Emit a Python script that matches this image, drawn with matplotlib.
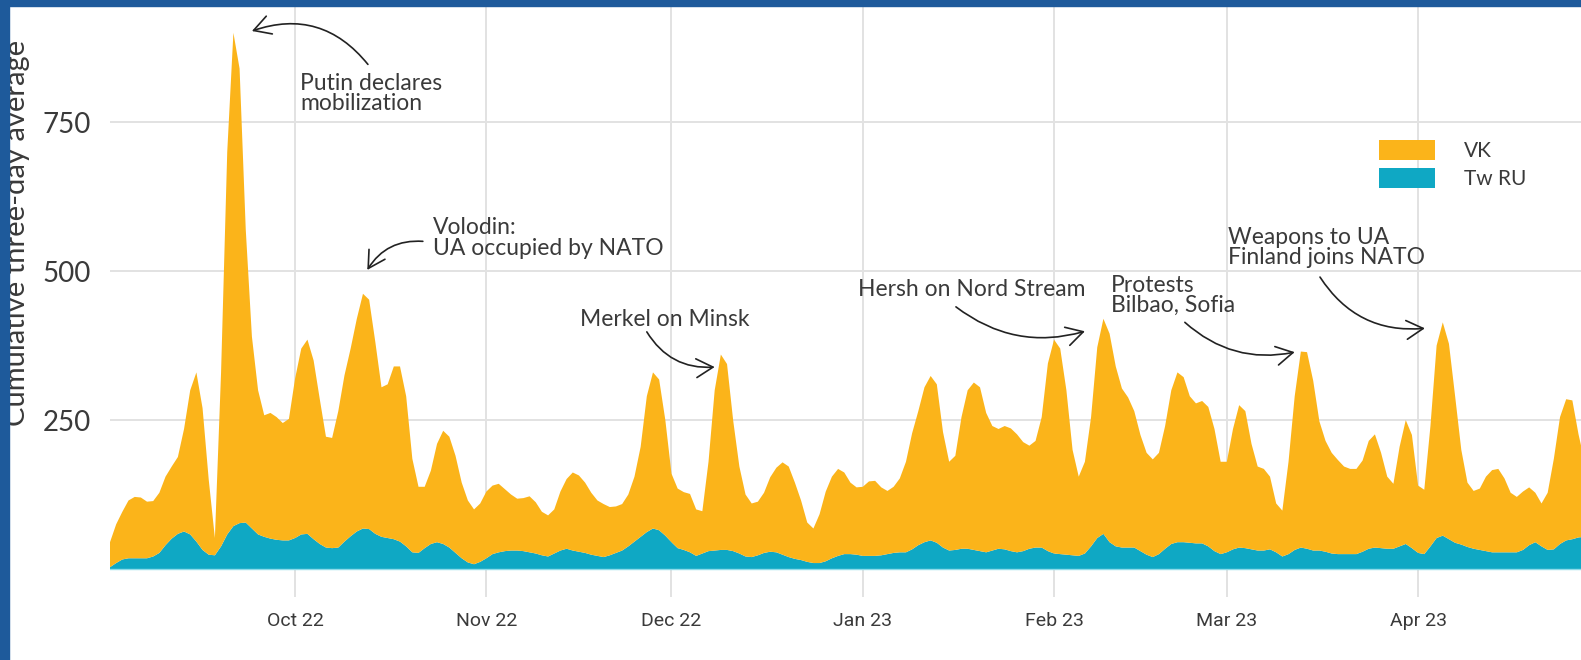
import matplotlib
matplotlib.use("Agg")
import matplotlib.pyplot as plt
import matplotlib.dates as mdates
from matplotlib.patches import Rectangle
import pandas as pd
import numpy as np

W, H = 1581, 660

# cumulative three-day average (top edge of the stack), daily from 1 Sep 2022
total = [
    45, 75, 96, 115, 121, 120, 113, 114, 128, 155,
    172, 188, 235, 300, 330, 270, 150, 52, 330, 700,
    900, 840, 570, 390, 300, 258, 262, 255, 245, 252,
    320, 370, 385, 350, 285, 222, 220, 265, 325, 370,
    420, 462, 452, 381, 305, 310, 340, 340, 290, 185,
    138, 138, 165, 210, 232, 222, 190, 145, 115, 100,
    110, 130, 140, 143, 134, 125, 118, 119, 122, 112,
    96, 90, 100, 130, 151, 162, 157, 145, 128, 115,
    109, 104, 105, 109, 125, 155, 205, 290, 330, 318,
    250, 160, 135, 129, 126, 100, 97, 180, 300, 360,
    344, 249, 172, 125, 110, 113, 128, 154, 170, 179,
    172, 145, 115, 78, 68, 92, 130, 155, 168, 162,
    145, 137, 138, 147, 148, 137, 131, 138, 152, 180,
    228, 265, 305, 324, 310, 230, 180, 190, 255, 300,
    313, 305, 262, 240, 235, 240, 236, 226, 213, 207,
    215, 255, 345, 385, 370, 300, 200, 155, 180, 255,
    372, 420, 395, 340, 303, 288, 265, 225, 195, 184,
    195, 240, 300, 330, 322, 290, 278, 282, 272, 235,
    180, 180, 235, 275, 265, 210, 172, 168, 155, 110,
    98, 180, 290, 365, 364, 316, 248, 215, 195, 183,
    172, 168, 168, 182, 215, 226, 195, 155, 143, 205,
    250, 225, 140, 133, 240, 375, 414, 378, 290, 200,
    145, 131, 135, 155, 166, 168, 152, 128, 121, 130,
    137, 128, 110, 128, 185, 255, 285, 283, 226, 180,
]

# Twitter (RU) three-day average
tw_ru = [
    3, 10, 16, 18, 18, 18, 18, 21, 27, 40,
    51, 59, 63, 58, 46, 32, 24, 23, 38, 58,
    72, 77, 78, 68, 58, 54, 51, 49, 48, 48,
    52, 58, 59, 50, 42, 36, 35, 36, 46, 55,
    63, 68, 67, 59, 54, 52, 50, 46, 38, 28,
    27, 35, 42, 45, 42, 36, 27, 18, 11, 8,
    12, 18, 25, 28, 30, 31, 31, 30, 28, 26,
    23, 21, 26, 31, 34, 31, 29, 27, 24, 22,
    20, 23, 27, 31, 38, 46, 54, 62, 68, 65,
    56, 45, 35, 32, 28, 22, 26, 30, 31, 32,
    32, 30, 26, 21, 20, 23, 27, 29, 28, 24,
    20, 17, 15, 12, 10, 10, 13, 18, 22, 25,
    25, 24, 22, 22, 22, 23, 25, 27, 28, 28,
    33, 40, 45, 48, 44, 36, 31, 32, 34, 34,
    32, 30, 28, 31, 34, 33, 30, 28, 30, 34,
    36, 36, 30, 26, 25, 24, 23, 22, 26, 38,
    52, 59, 45, 38, 36, 36, 36, 30, 24, 20,
    25, 34, 42, 45, 45, 44, 43, 43, 38, 30,
    25, 28, 33, 36, 35, 33, 31, 31, 33, 28,
    21, 25, 32, 36, 34, 31, 31, 29, 26, 25,
    25, 25, 25, 29, 34, 36, 35, 34, 34, 38,
    42, 35, 27, 25, 38, 52, 56, 50, 44, 41,
    37, 34, 32, 30, 28, 28, 28, 28, 28, 32,
    40, 45, 38, 32, 33, 42, 48, 50, 53, 54,
]

start = "2022-09-01"
month_ticks = ["2022-10-01", "2022-11-01", "2022-12-01", "2023-01-01",
               "2023-02-01", "2023-03-01", "2023-04-01"]
y_ticks = [250, 500, 750]

# (text, text pos (day offset, value), arrow start, arrow end, rad)
events = [
    ("Putin declares\nmobilization", (30.8, 832), (41.8, 847), (23.0, 903), 0.35),
    ("Volodin:\nUA occupied by NATO", (52.3, 590), (50.7, 550), (41.7, 502), 0.3),
    ("Merkel on Minsk", (76.2, 437), (87.0, 398), (98.0, 339), 0.3),
    ("Hersh on Nord Stream", (121.2, 487), (137.1, 440), (158.0, 399), 0.25),
    ("Protests\nBilbao, Sofia", (162.2, 494), (174.2, 414), (192.0, 364), 0.25),
    ("Weapons to UA\nFinland joins NATO", (181.2, 574), (196.1, 490), (213.1, 404), 0.3),
]

orange = "#fbb41a"
teal = "#0fa8c4"
border = "#1e5a9b"
grid_c = "#e2e2e2"
text_c = "#3a3a3a"
font = "Lato"

dates = pd.date_range(start, periods=len(total), freq="D")
tw = np.array(tw_ru)
vk = np.array(total) - tw
t0 = pd.Timestamp(start)

fig = plt.figure(figsize=(W / 100, H / 100), dpi=100)
fig.patch.set_facecolor("white")
ax = fig.add_axes([110 / W, 1 - 597 / H, 1 - 110 / W, (597 - 6) / H])

ax.stackplot(dates, tw, vk, colors=[teal, orange],
             labels=["Tw RU", "VK"], linewidth=0)
ax.axhline(0, color="#8fdcea", lw=1.0, zorder=3)

ax.set_xlim(t0, t0 + pd.Timedelta(days=238.4))
ax.set_ylim(-47, 945)
ax.set_xticks(pd.to_datetime(month_ticks))
ax.xaxis.set_major_formatter(mdates.DateFormatter("%b %y"))
ax.set_yticks(y_ticks)
ax.set_axisbelow(True)
ax.grid(True, color=grid_c, lw=1.4)
for s in ax.spines.values():
    s.set_visible(False)
ax.tick_params(axis="both", length=0)
ax.tick_params(axis="y", pad=14, labelsize=20, labelcolor=text_c)
ax.tick_params(axis="x", pad=11, labelsize=14, labelcolor=text_c)
for lab in ax.get_yticklabels():
    lab.set_family(font)
for lab in ax.get_xticklabels():
    lab.set_family("Roboto")

fig.text(17 / W, 1 - 233 / H, "Cumulative three-day average", rotation=90,
         ha="center", va="center", fontsize=21, color=text_c, family=font)

for label, tpos, a0, a1, rad in events:
    ax.text(t0 + pd.Timedelta(days=tpos[0]), tpos[1], label, ha="left", va="top",
            fontsize=16.5, color=text_c, family=font, linespacing=0.95)
    ax.annotate("", xy=(t0 + pd.Timedelta(days=a1[0]), a1[1]),
                xytext=(t0 + pd.Timedelta(days=a0[0]), a0[1]),
                arrowprops=dict(arrowstyle="->,head_length=0.8,head_width=0.45",
                                connectionstyle=f"arc3,rad={rad}",
                                color="#222222", lw=1.2,
                                shrinkA=0, shrinkB=0, mutation_scale=15))

handles, labels = ax.get_legend_handles_labels()
leg = fig.legend(handles[::-1], labels[::-1], loc="upper left",
                 bbox_to_anchor=(1379 / W, 1 - 140 / H), frameon=False,
                 borderpad=0, borderaxespad=0, handlelength=2.7,
                 handleheight=1.1, labelspacing=0.34, handletextpad=1.4,
                 prop={"family": font, "size": 15})
for t in leg.get_texts():
    t.set_color(text_c)

# blue frame on the left and top edges
fig.patches.append(Rectangle((0, 0), 9 / W, 1, transform=fig.transFigure,
                             color=border, zorder=10))
fig.patches.append(Rectangle((0, 1 - 6 / H), 1, 6 / H, transform=fig.transFigure,
                             color=border, zorder=10))

fig.savefig("out.png", dpi=100)
